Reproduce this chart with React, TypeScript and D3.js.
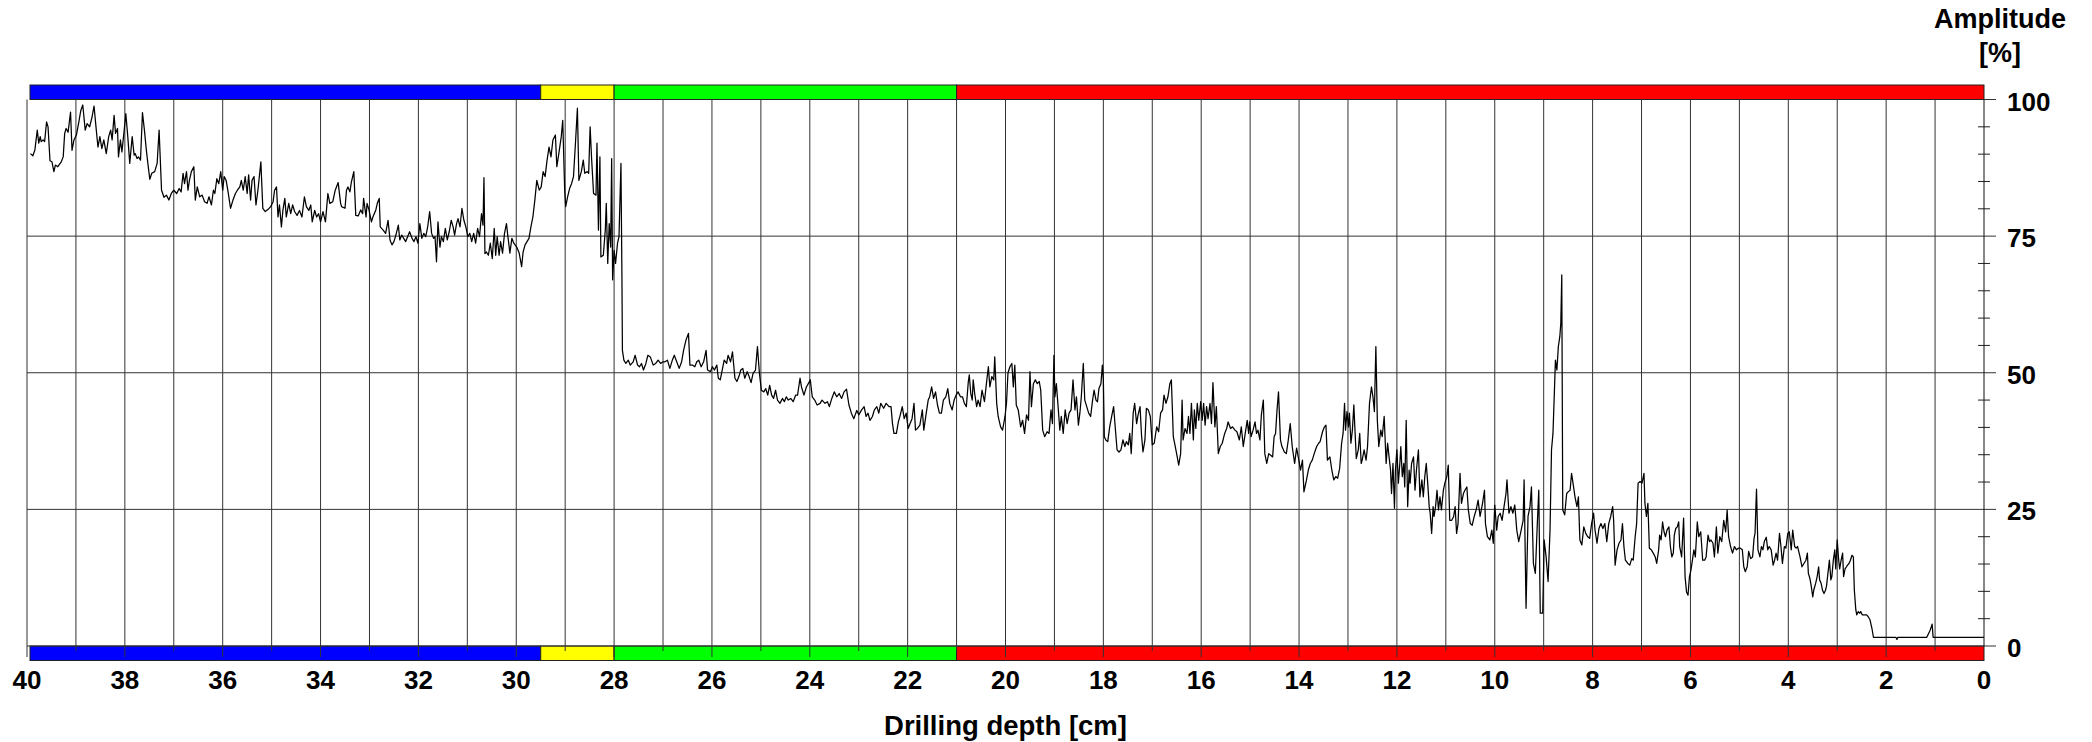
import React from "react";
import * as d3 from "d3";

// ---- Data (depth in cm, amplitude in %) ----
const TRACE_40_34: [number, number][] = [[39.93,90.1],[39.88,89.7],[39.84,90.7],[39.79,94.4],[39.76,92],[39.73,93.2],[39.71,92.3],[39.67,92.6],[39.64,92.3],[39.60,95.9],[39.57,95],[39.53,88.8],[39.49,88.6],[39.45,86.8],[39.42,88],[39.37,87.7],[39.30,88.6],[39.26,89.5],[39.23,93.8],[39.20,94.7],[39.16,94],[39.11,97.7],[39.08,90.7],[39.04,92.6],[38.99,93.5],[38.94,95.9],[38.90,98],[38.86,99],[38.81,94.4],[38.77,95.6],[38.72,95],[38.67,96.8],[38.63,98.8],[38.59,95],[38.55,91.3],[38.51,93.2],[38.47,91],[38.43,92.6],[38.38,90.1],[38.33,93.2],[38.29,94.4],[38.26,92.6],[38.22,97.1],[38.19,93.8],[38.15,94.7],[38.13,89.5],[38.09,92.6],[38.06,90.4],[38.02,93.8],[37.98,97.4],[37.94,93.2],[37.90,88.3],[37.85,93.2],[37.81,89.8],[37.79,90.1],[37.75,89.2],[37.72,89.5],[37.68,88.9],[37.64,97.6],[37.60,94.4],[37.56,90.7],[37.53,88.3],[37.49,85.4],[37.45,86.5],[37.39,86.8],[37.34,88.3],[37.30,94.4],[37.25,83.4],[37.20,82.1],[37.15,82.5],[37.10,81.6],[37.05,82.8],[37.00,83.4],[36.94,82.8],[36.89,83.7],[36.85,83.1],[36.81,86.5],[36.78,84.6],[36.74,86.8],[36.71,83.4],[36.68,85.2],[36.64,86.8],[36.59,87.7],[36.56,81.6],[36.52,84],[36.47,82.2],[36.42,82.5],[36.37,81.3],[36.32,81],[36.28,82.2],[36.23,80.7],[36.19,83.4],[36.16,82.8],[36.12,85.5],[36.08,84.6],[36.04,86.8],[36.00,83.4],[35.97,85.9],[35.93,85.2],[35.89,83.1],[35.84,80.1],[35.79,81.6],[35.74,82.8],[35.70,83.4],[35.65,84],[35.62,85.2],[35.58,83.4],[35.54,85.9],[35.50,82.8],[35.47,86.2],[35.43,81.6],[35.40,85.2],[35.36,85.9],[35.32,80.7],[35.28,83.4],[35.22,88.6],[35.18,80.1],[35.13,79.5],[35.07,79.9],[35.02,80.4],[34.97,81.3],[34.94,83.4],[34.90,84],[34.87,78.5],[34.84,80.7],[34.80,76.7],[34.77,79.7],[34.73,81.9],[34.70,78.5],[34.65,81],[34.61,79.1],[34.57,80.7],[34.53,79.5],[34.48,78.8],[34.43,79.7],[34.38,78.5],[34.33,82.2],[34.29,80.4],[34.24,79.7],[34.20,80.7],[34.17,77.6],[34.12,79.7],[34.08,78.5],[34.04,79.1],[34.00,77.6],[33.95,79.5],[33.90,77.6],[33.85,82.8],[33.81,81],[33.75,81.3],[33.70,83.4],[33.64,84.8],[33.59,81]];

const TRACE_34_27: [number, number][] = [[33.57,80.4],[33.50,80.1],[33.47,83.4],[33.44,84],[33.40,83.1],[33.37,84.9],[33.32,86.8],[33.28,78.8],[33.23,78.7],[33.18,79.8],[33.14,79.1],[33.12,81.9],[33.07,78.5],[33.05,81],[33.01,79.8],[32.96,77.6],[32.93,78.5],[32.87,79.8],[32.84,81],[32.80,81.9],[32.78,76.7],[32.72,76.1],[32.67,75.5],[32.62,77.9],[32.58,74.3],[32.54,73.4],[32.50,74],[32.46,75.2],[32.41,77],[32.38,74.3],[32.34,75.2],[32.30,74.6],[32.26,74],[32.22,74.9],[32.18,75.8],[32.13,74.6],[32.09,74],[32.05,74.9],[32.01,73.7],[31.97,77.3],[31.93,74.6],[31.89,75.5],[31.85,74.9],[31.81,76.7],[31.77,79.5],[31.73,75.5],[31.69,74.6],[31.66,74.9],[31.63,70.3],[31.60,77.6],[31.56,73],[31.53,74.9],[31.49,74],[31.45,76.4],[31.41,74.3],[31.37,75.8],[31.33,77.9],[31.29,76.7],[31.26,75.2],[31.22,77.3],[31.19,78.2],[31.15,76.7],[31.11,80.1],[31.07,77.9],[31.03,76.7],[30.99,74.9],[30.95,75.5],[30.91,74],[30.87,75.5],[30.83,73.7],[30.79,76.4],[30.75,74.9],[30.71,79.1],[30.68,77],[30.66,85.7],[30.64,71.8],[30.61,72.1],[30.57,71.5],[30.53,73.7],[30.49,70.9],[30.45,76.4],[30.42,71.5],[30.39,74.9],[30.35,71.5],[30.32,74],[30.28,71.9],[30.24,75.5],[30.20,77.3],[30.17,74.9],[30.13,71.9],[30.09,74.6],[30.05,73.7],[29.99,73],[29.94,71.9],[29.89,69.4],[29.86,72.1],[29.82,73.4],[29.78,74],[29.74,74.6],[29.70,76.7],[29.66,78.5],[29.62,81.6],[29.58,85.2],[29.53,83.4],[29.49,84],[29.45,86.8],[29.41,85.9],[29.37,88.9],[29.33,91.3],[29.29,89.5],[29.25,92.6],[29.20,93.5],[29.17,87.7],[29.12,90.7],[29.08,93.2],[29.05,96.2],[29.01,83.4],[28.99,80.4],[28.95,82.2],[28.91,83.7],[28.87,84.6],[28.83,85.9],[28.79,92],[28.75,98.4],[28.72,85.2],[28.67,86.8],[28.63,88.9],[28.60,86.5],[28.55,86.8],[28.52,86.5],[28.49,95],[28.46,89.2],[28.42,82.8],[28.37,82.5],[28.35,92],[28.32,76.1],[28.29,89.5],[28.27,71.2],[28.22,71.5],[28.18,76.1],[28.16,81],[28.13,70],[28.10,77.3],[28.07,73],[28.05,89.2],[28.03,67],[28.00,72.4],[27.97,70],[27.93,73.7],[27.90,74.9],[27.86,88.3],[27.84,67.6],[27.83,54.1],[27.80,52.3],[27.76,51.7],[27.71,52.3],[27.67,51.4],[27.61,52],[27.57,53.2],[27.52,51.4],[27.48,51.1],[27.44,51.7],[27.40,50.5],[27.35,51.7],[27.31,53.2],[27.26,52.9],[27.20,51.4],[27.15,51.7],[27.10,52.3],[27.05,51.7],[27.00,52]];

const TRACE_27_20: [number, number][] = [[26.96,52],[26.91,52.3],[26.86,50.8],[26.81,52.3],[26.77,53.2],[26.72,52],[26.67,50.8],[26.62,52],[26.58,54.1],[26.53,56],[26.48,57.2],[26.45,51.4],[26.40,51.4],[26.35,51.1],[26.31,52],[26.27,52.3],[26.22,51.1],[26.17,52],[26.12,54.1],[26.09,50.5],[26.03,50.2],[25.99,51.1],[25.95,50.5],[25.90,51.4],[25.87,49],[25.83,48.7],[25.79,50.5],[25.75,52.3],[25.70,51.7],[25.67,53.2],[25.62,52],[25.58,53.8],[25.53,49],[25.49,48.4],[25.45,49.3],[25.41,50.5],[25.37,50.8],[25.33,49],[25.28,50.2],[25.24,49.3],[25.20,48.2],[25.16,49.9],[25.11,50.5],[25.07,54.8],[25.03,49.9],[24.99,46.8],[24.94,46.5],[24.90,47.1],[24.86,45.9],[24.82,47.7],[24.78,45.9],[24.74,45.3],[24.70,46.8],[24.66,45],[24.61,44.4],[24.56,45.3],[24.52,44.7],[24.48,45.6],[24.44,45],[24.39,45.3],[24.34,44.7],[24.29,45.9],[24.25,45.9],[24.20,49],[24.17,47.4],[24.12,45.9],[24.07,47.4],[24.03,48],[23.99,48.7],[23.95,45.6],[23.90,45],[23.85,44.1],[23.79,44.4],[23.75,45],[23.69,44.4],[23.64,44.7],[23.60,43.8],[23.55,45.3],[23.50,46.5],[23.45,45.6],[23.40,46.2],[23.35,45.3],[23.30,46.5],[23.25,47],[23.20,44.1],[23.15,42.6],[23.10,41.6],[23.04,43.1],[23.00,42.3],[22.94,43.2],[22.89,43.8],[22.85,42],[22.81,42.6],[22.77,41.3],[22.72,42],[22.68,43.2],[22.63,43.8],[22.59,42.6],[22.55,44.4],[22.49,43.5],[22.44,44.4],[22.38,43.8],[22.34,43.8],[22.31,40.7],[22.28,38.9],[22.23,38.9],[22.19,41],[22.15,42.3],[22.11,43.8],[22.07,41.6],[22.03,42.6],[21.99,39.8],[21.95,40.7],[21.91,41.6],[21.87,44.4],[21.84,39.5],[21.80,39.8],[21.75,40.4],[21.70,43.2],[21.67,39.5],[21.62,42.6],[21.58,45],[21.55,45.6],[21.51,47.4],[21.47,45.3],[21.43,46.5],[21.39,44.1],[21.35,42.6],[21.31,42.6],[21.27,45],[21.22,45.6],[21.18,47.1],[21.14,44.4],[21.09,43.2],[21.05,45],[21.01,45.9],[20.97,46.5],[20.92,45.6],[20.88,45.6],[20.84,44.4],[20.80,43.8],[20.76,48.4],[20.74,49.6],[20.71,46.2],[20.68,45],[20.66,48.7],[20.63,46.2],[20.59,43.8],[20.56,45],[20.52,43.8],[20.48,46.8],[20.43,44.7],[20.39,48],[20.35,51.1],[20.32,47.4],[20.28,49.3],[20.24,48.7],[20.22,52.9]];

const TRACE_20_14: [number, number][] = [[20.18,44.4],[20.15,42],[20.10,40.1],[20.06,39.5],[20.01,42],[19.98,44.4],[19.95,49.9],[19.91,51.1],[19.87,51.7],[19.84,47.4],[19.81,51.4],[19.78,44.1],[19.74,43.2],[19.69,40.1],[19.65,41.3],[19.61,38.9],[19.57,42.3],[19.53,41.3],[19.50,50.2],[19.47,43.8],[19.43,48],[19.39,48.7],[19.35,48],[19.31,48.4],[19.28,46.8],[19.24,39.5],[19.20,38.3],[19.15,39.2],[19.11,38.9],[19.07,43.2],[19.04,40.7],[19.01,53.2],[18.99,45.6],[18.96,48],[18.92,43.2],[18.89,39.5],[18.86,42],[18.82,38.9],[18.78,43.2],[18.74,40.7],[18.70,42.6],[18.66,43.2],[18.62,48.7],[18.58,43.2],[18.55,45.6],[18.51,40.4],[18.48,42.6],[18.45,45.6],[18.41,51.7],[18.38,45],[18.34,43.8],[18.30,42.6],[18.26,42],[18.22,45],[18.19,46.8],[18.15,45],[18.12,44.7],[18.09,47.1],[18.05,48],[18.02,51.4],[18.00,48.7],[17.98,38.3],[17.95,37.7],[17.91,37.4],[17.87,40.1],[17.83,42],[17.79,43.8],[17.75,39.2],[17.72,35.9],[17.68,35.5],[17.64,35.9],[17.60,37.7],[17.56,36.5],[17.53,37.4],[17.49,36.8],[17.46,38.9],[17.43,35.2],[17.39,42.6],[17.36,44.4],[17.32,40.7],[17.29,42.3],[17.25,43.8],[17.22,38.6],[17.19,35.5],[17.15,37.7],[17.12,43.5],[17.08,43.2],[17.04,42],[17.00,36.8],[16.96,37.1],[16.91,40.1],[16.87,39.2],[16.83,42.6],[16.79,43.2],[16.76,45.9],[16.72,44.4],[16.68,45.6],[16.64,48],[16.61,48.7],[16.57,38.3],[16.53,36.5],[16.49,34.6],[16.46,33.1],[16.42,35.2],[16.39,45],[16.37,37.7],[16.33,39.8],[16.29,38.9],[16.26,42],[16.23,38.9],[16.20,44.4],[16.16,37.7],[16.14,43.2],[16.11,39.8],[16.08,44.4],[16.05,41.3],[16.01,44.7],[15.98,41.3],[15.95,44.4],[15.92,40.4],[15.89,43.8],[15.86,41.6],[15.82,44.4],[15.79,40.7],[15.76,48.2],[15.72,40.1],[15.69,43.8],[15.65,35.2],[15.61,36.5],[15.57,37.1],[15.52,38.9],[15.48,39.8],[15.45,41],[15.40,39.8],[15.36,40.1],[15.31,39.5],[15.27,39.2],[15.22,37.7],[15.18,40.1],[15.14,36.5],[15.10,38.9],[15.06,41.3],[15.03,38.9],[15.01,41],[14.98,38.3],[14.94,39.5],[14.90,41],[14.87,38.9],[14.84,39.5],[14.80,37.7],[14.77,42.3],[14.73,45],[14.70,35.2],[14.66,33.4],[14.62,35.2],[14.58,34.9],[14.54,34.6],[14.51,38.3],[14.48,38.9],[14.45,43.2],[14.42,46.5],[14.38,37.7],[14.35,36.5],[14.30,35.5],[14.26,35.2],[14.22,37.7],[14.18,40.7],[14.14,36.5],[14.09,33.4],[14.05,36.2],[14.01,34.3],[13.97,32.2],[13.93,34],[13.90,28.2],[13.85,30.3],[13.81,32.2],[13.77,33.4],[13.73,34],[13.69,35.2],[13.64,36.5],[13.60,37.1]];

const TRACE_14_7: [number, number][] = [[13.57,37.4],[13.52,39.2],[13.48,40.1],[13.45,40.4],[13.42,34],[13.37,34.6],[13.33,32.2],[13.29,30.4],[13.25,31],[13.21,30.7],[13.17,32.5],[13.13,37.1],[13.10,38.9],[13.07,44.4],[13.05,39.5],[13.02,42.9],[12.99,40.1],[12.97,42.6],[12.94,37.1],[12.91,39.5],[12.88,44.1],[12.86,40.1],[12.83,34.3],[12.79,35.9],[12.76,38.9],[12.73,33.4],[12.71,34],[12.67,35.9],[12.63,34],[12.60,36.5],[12.56,44.4],[12.52,47.4],[12.49,45.6],[12.46,42.9],[12.43,54.8],[12.40,41.3],[12.37,36.5],[12.33,39.5],[12.30,38.3],[12.26,42],[12.22,33.4],[12.19,37.1],[12.16,34.6],[12.13,32.2],[12.11,27.9],[12.08,33.4],[12.05,25.2],[12.03,32.2],[12.00,35.9],[11.97,29.8],[11.94,33.4],[11.92,36.5],[11.89,31],[11.86,33.4],[11.84,29.1],[11.81,41.3],[11.78,25.5],[11.75,32.2],[11.73,29.8],[11.70,33.4],[11.66,34.6],[11.63,28.5],[11.60,32.2],[11.56,35.9],[11.53,27.3],[11.49,30.4],[11.46,27.3],[11.43,31],[11.40,33.4],[11.37,29.8],[11.34,25.5],[11.32,24.3],[11.29,20.6],[11.26,25.5],[11.24,23.7],[11.21,25.5],[11.18,28.5],[11.15,24.9],[11.12,27.3],[11.09,24.9],[11.05,28.5],[11.02,29.8],[10.98,31],[10.95,33.1],[10.92,23],[10.88,23],[10.84,23.7],[10.81,25.5],[10.78,20.6],[10.75,22.4],[10.71,31.6],[10.68,26.1],[10.64,27.9],[10.61,28.5],[10.57,29.1],[10.54,24.9],[10.50,22.4],[10.46,22.1],[10.42,23.7],[10.38,24.9],[10.34,26.7],[10.30,23.7],[10.25,26.1],[10.21,28.5],[10.19,22.4],[10.15,20],[10.10,19.4],[10.06,21.2],[10.03,18.8],[10.00,25.8],[9.96,21.2],[9.93,23.7],[9.89,24.3],[9.85,23],[9.81,25.5],[9.77,27.9],[9.75,30.4],[9.71,24.3],[9.67,25.5],[9.63,24.3],[9.59,25.8],[9.55,21.2],[9.51,19.1],[9.46,21.2],[9.42,23],[9.40,30.4],[9.36,6.9],[9.32,23.7],[9.28,25.5],[9.25,29.1],[9.21,15.1],[9.17,13.3],[9.13,22.4],[9.10,28.5],[9.07,6],[9.02,6],[8.99,19.4],[8.95,16.3],[8.91,11.8],[8.87,21.2],[8.84,35.9],[8.81,38.9],[8.78,46.8],[8.76,52.3],[8.73,50.5],[8.70,54.8],[8.67,56.6],[8.65,59],[8.63,67.9],[8.61,24.9],[8.57,24],[8.53,27.9],[8.50,28.2],[8.46,28.5],[8.43,31.6],[8.40,29.8],[8.36,27.3],[8.32,25.5],[8.29,27.3],[8.26,19.4],[8.22,18.5],[8.18,21.8],[8.14,20.6],[8.10,20],[8.06,19.7],[8.02,22.4],[7.98,24.3],[7.95,21.2],[7.91,18.8],[7.87,21.5],[7.83,22.4],[7.79,21.5],[7.75,22.4],[7.71,19.1],[7.67,22.4],[7.63,23.7],[7.59,25.5],[7.57,23],[7.54,14.8],[7.50,17.6],[7.46,18.8],[7.42,19.4],[7.39,22.4],[7.36,18.2],[7.33,15.7],[7.28,15.1],[7.24,14.8],[7.20,16],[7.17,15.7],[7.13,20],[7.10,22.4],[7.07,29.8],[7.03,30.1]];

const TRACE_7_0: [number, number][] = [[6.99,29.8],[6.95,31.6],[6.93,26.1],[6.90,23.7],[6.87,26.1],[6.84,17.9],[6.80,17.6],[6.76,17],[6.72,16.3],[6.69,15.1],[6.65,17.6],[6.63,20.3],[6.60,19.4],[6.57,22.7],[6.54,20.9],[6.51,20],[6.48,21.2],[6.44,21.8],[6.41,18.2],[6.38,16.3],[6.35,17],[6.33,20.3],[6.30,21.5],[6.27,21.8],[6.24,22.7],[6.22,18.2],[6.18,16.3],[6.14,23.4],[6.11,12.7],[6.08,9.9],[6.05,9.3],[6.02,12.7],[5.99,13.9],[5.96,15.7],[5.93,17.6],[5.90,16.3],[5.86,22.7],[5.83,20],[5.79,20.9],[5.75,15.7],[5.71,15.7],[5.68,16.3],[5.64,20.3],[5.61,19.1],[5.58,19.4],[5.54,18.8],[5.51,16.3],[5.47,21.8],[5.44,17],[5.40,20],[5.36,19.1],[5.32,23],[5.28,20.9],[5.25,24.9],[5.22,20],[5.18,18.2],[5.14,17],[5.10,18.2],[5.06,17.6],[5.02,17.9],[4.98,17.9],[4.94,17.6],[4.91,14.5],[4.88,13.6],[4.84,14.5],[4.81,17.3],[4.77,16],[4.73,16.3],[4.70,19.7],[4.68,20.6],[4.65,28.7],[4.62,17.6],[4.58,16.3],[4.55,18.2],[4.52,17.6],[4.49,19.1],[4.45,19.9],[4.42,17.6],[4.39,18.2],[4.35,17.6],[4.31,14.8],[4.28,15.7],[4.25,17],[4.22,15.7],[4.18,20.6],[4.15,18.2],[4.12,15.1],[4.08,18.2],[4.05,17.9],[4.01,20.6],[3.98,20.9],[3.94,17.6],[3.91,21.2],[3.87,18.2],[3.84,17.9],[3.81,18.2],[3.76,16.3],[3.72,14.5],[3.68,15.1],[3.64,15.7],[3.61,17],[3.59,13.3],[3.56,12.4],[3.53,10.9],[3.50,9],[3.48,10.2],[3.44,11.5],[3.41,12.7],[3.38,14.5],[3.36,12.1],[3.33,11.5],[3.30,10.2],[3.27,9.6],[3.24,10.2],[3.22,10.9],[3.19,13.3],[3.16,15.7],[3.13,12.1],[3.11,12.7],[3.08,15.7],[3.05,17.6],[3.03,14.1],[3.00,19.4],[2.97,15.7],[2.95,14.1],[2.92,15.7],[2.89,17],[2.87,12.7],[2.84,14.1],[2.81,14.5],[2.79,14.8],[2.76,15.1],[2.73,15.7],[2.70,16.6],[2.67,16.3],[2.65,10.2],[2.62,6.6],[2.60,5.7],[2.57,6.3],[2.54,6],[2.52,6.3],[2.49,5.7],[2.46,5.7],[2.40,5.7],[2.37,5.4],[2.33,4.8],[2.29,3.2],[2.26,1.6],[1.80,1.6],[1.78,1.2],[1.76,1.6],[1.17,1.6],[1.10,2.9],[1.06,4.0],[1.04,1.6],[0.00,1.6]];

const ZONE_BOUNDS = [40, 29.5, 28, 21, 0];
const ZONE_COLORS = ["#0000ff", "#ffff00", "#00ff00", "#ff0000"];
const X_TICK_LABELS = [40, 38, 36, 34, 32, 30, 28, 26, 24, 22, 20, 18, 16, 14, 12, 10, 8, 6, 4, 2, 0];
const Y_TICK_LABELS = [0, 25, 50, 75, 100];
const Y_MINOR_STEP = 5;

const FONT = "'Liberation Sans', Arial, Helvetica, sans-serif";

export default function App() {
  const W = 2092, H = 742;
  const x = d3.scaleLinear().domain([40, 0]).range([27, 1984]);
  const y = d3.scaleLinear().domain([0, 100]).range([646, 99.5]);
  const data = [...TRACE_40_34, ...TRACE_34_27, ...TRACE_27_20, ...TRACE_20_14, ...TRACE_14_7, ...TRACE_7_0];
  const line = d3.line<[number, number]>().x(d => x(d[0])).y(d => y(d[1]));

  const xR = x(0), xL = x(40);
  const yTop = y(100), yBot = y(0);
  const barH = 14.5;
  const grid = "#333";

  const cmLines = d3.range(39, 0, -1);
  const minor = d3.range(Y_MINOR_STEP, 100, Y_MINOR_STEP).filter(v => v % 25 !== 0);

  const zones = ZONE_COLORS.map((c, i) => ({ from: ZONE_BOUNDS[i], to: ZONE_BOUNDS[i + 1], color: c }));

  return (
    <svg width={W} height={H} style={{ position: "absolute", left: 0, top: 0, background: "#fff" }}
      fontFamily={FONT} fontWeight="bold">
      <rect x={0} y={0} width={W} height={H} fill="#fff" />
      {zones.map((z, i) => {
        const x0 = Math.max(x(z.from), xL + 3);
        return (
          <g key={"z" + i}>
            <rect x={x0} y={yTop - barH} width={x(z.to) - x0} height={barH} fill={z.color} stroke="#222" strokeWidth={1} />
            <rect x={x0} y={yBot} width={x(z.to) - x0} height={barH} fill={z.color} stroke="#222" strokeWidth={1} />
          </g>
        );
      })}
      <line x1={xL} x2={xL} y1={yTop} y2={yBot + 11} stroke={grid} strokeWidth={1} />
      {cmLines.map(d => (
        <line key={"v" + d} x1={x(d)} x2={x(d)} y1={yTop} y2={yBot + (d % 2 === 0 ? 11 : 5)} stroke={grid} strokeWidth={1} />
      ))}
      {Y_TICK_LABELS.map(v => (
        <line key={"h" + v} x1={v === 100 ? xR : xL} x2={xR + 12} y1={y(v)} y2={y(v)} stroke={grid} strokeWidth={1} />
      ))}
      {minor.map(v => (
        <line key={"m" + v} x1={xR - 6} x2={xR + 6} y1={y(v)} y2={y(v)} stroke="#222" strokeWidth={1} />
      ))}
      <line x1={xR} x2={xR} y1={yTop} y2={yBot} stroke="#111" strokeWidth={1} />
      <path d={line(data) || ""} fill="none" stroke="#000" strokeWidth={1.25} strokeLinejoin="round" />
      {Y_TICK_LABELS.map(v => (
        <text key={"yl" + v} x={xR + 23} y={y(v) + 11} fontSize={26} textAnchor="start" fill="#000">{v}</text>
      ))}
      <text x={2000} y={28} fontSize={27} textAnchor="middle" fill="#000">Amplitude</text>
      <text x={2000} y={62} fontSize={27} textAnchor="middle" fill="#000">[%]</text>
      {X_TICK_LABELS.map(d => (
        <text key={"xl" + d} x={x(d)} y={689} fontSize={26} textAnchor="middle" fill="#000">{d}</text>
      ))}
      <text x={(xL + xR) / 2} y={735} fontSize={27.5} textAnchor="middle" fill="#000">Drilling depth [cm]</text>
    </svg>
  );
}
